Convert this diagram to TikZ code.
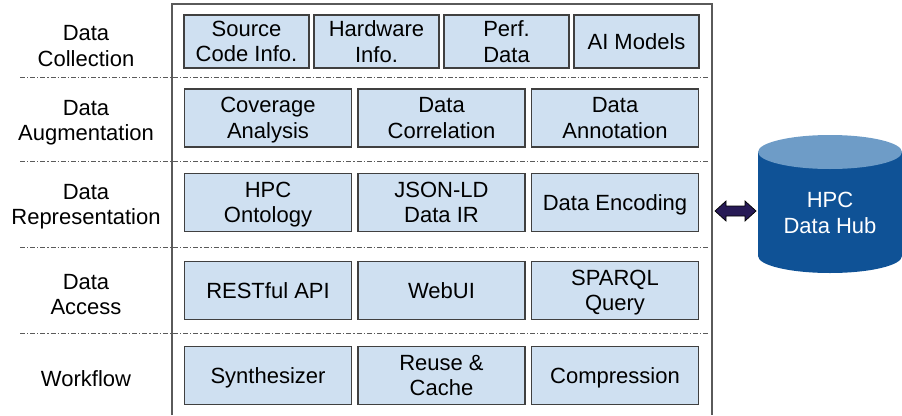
\documentclass[tikz,border=0pt]{standalone}
\usepackage{fontspec}
\setmainfont{Liberation Sans}
\usepackage{tikz}
\usetikzlibrary{positioning,calc}
\definecolor{cellfill}{RGB}{207,224,241}
\definecolor{celldraw}{RGB}{64,64,64}
\definecolor{framegray}{RGB}{90,90,90}
\definecolor{hubbody}{RGB}{15,82,150}
\definecolor{hubtop}{RGB}{110,156,199}
\definecolor{linknavy}{RGB}{39,26,86}

\begin{document}
\begin{tikzpicture}[x=1pt,y=-1pt,
    txt/.style={font=\fontsize{22}{25.5}\selectfont, align=center, inner sep=0pt},
    cell/.style={txt, draw=celldraw, line width=1.2pt, fill=cellfill, minimum height=58pt,
        text depth=0pt},
    smallcell/.style={cell, minimum width=125pt, minimum height=53pt},
    widecell/.style={cell, minimum width=167pt},
    sep/.style={framegray, line width=0.8pt, dash pattern=on 5pt off 2pt on 1.2pt off 2pt},
    link/.style={draw=black, fill=linknavy, line width=0.7pt, line join=miter}]
    \useasboundingbox (0,0) rectangle (902,415);

    % Draw outer frame (open at the bottom)
    \draw[framegray, line width=1.4pt] (172,415) -- (172,4) -- (712,4) -- (712,415);

    % Draw layer separators
    \draw[sep] (20,77) -- (708,77);
    \draw[sep] (20,161) -- (708,161);
    \draw[sep] (20,247) -- (708,247);
    \draw[sep] (20,333) -- (708,333);

    % Layer names
    \node[txt] (lcoll) at (86,46) {Data\\Collection};
    \node[txt] (laug) at (86,122.5) {Data\\Augmentation};
    \node[txt] (lrep) at (86,206.5) {Data\\Representation};
    \node[txt] (lacc) at (86,294.5) {Data\\Access};
    \node[txt] (lwf) at (86,379) {Workflow};

    % Data collection
    \node[smallcell] (src) at (246.5,41.5) {Source\\Code Info.};
    \node[smallcell] (hw) at (376.5,41.5) {Hardware\\Info.};
    \node[smallcell] (perf) at (506.5,41.5) {Perf.\\Data};
    \node[smallcell] (ai) at (636.5,41.5) {AI Models};

    % Data augmentation
    \node[widecell] (cov) at (268,118) {Coverage\\Analysis};
    \node[widecell] (corr) at (441.5,118) {Data\\Correlation};
    \node[widecell] (annot) at (615,118) {Data\\Annotation};

    % Data representation
    \node[widecell] (onto) at (268,202.5) {HPC\\Ontology};
    \node[widecell] (jsonld) at (441.5,202.5) {JSON-LD\\Data IR};
    \node[widecell] (enc) at (615,202.5) {Data Encoding};

    % Data access
    \node[widecell] (rest) at (268,290.5) {RESTful API};
    \node[widecell] (webui) at (441.5,290.5) {WebUI};
    \node[widecell] (sparql) at (615,290.5) {SPARQL\\Query};

    % Workflow
    \node[widecell] (synth) at (268,375.5) {Synthesizer};
    \node[widecell] (reuse) at (441.5,375.5) {Reuse \&\\Cache};
    \node[widecell] (compr) at (615,375.5) {Compression};

    % Draw the data hub cylinder
    \fill[hubbody] (758,152) rectangle (902,256);
    \fill[hubbody] (830,256) ellipse [x radius=72, y radius=17];
    \fill[hubtop] (830,152) ellipse [x radius=72, y radius=17];
    \node[txt, text=white] (hub) at (830,213) {HPC\\Data Hub};

    % Fat double arrow between frame and hub
    \coordinate (frameE) at (715,211);
    \coordinate (hubW) at (756,211);
    \draw[link] (frameE) -- ++(11,-10) -- ++(0,5) -- ($(hubW)+(-11,-5)$) -- ++(0,-5)
        -- (hubW) -- ++(-11,10) -- ++(0,-5) -- ($(frameE)+(11,5)$) -- ++(0,5) -- cycle;
\end{tikzpicture}
\end{document}
